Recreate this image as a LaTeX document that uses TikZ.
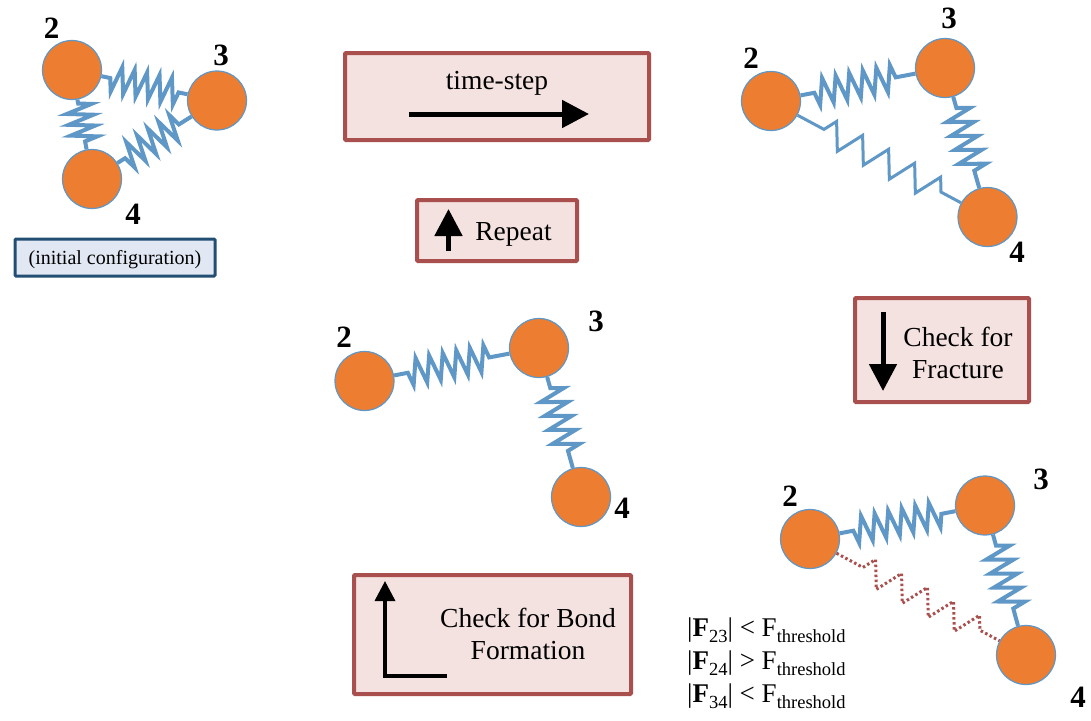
\documentclass[tikz,border=0pt]{standalone}
\usepackage{fontspec}
\setmainfont{Liberation Serif}
\usepackage{tikz}
\usetikzlibrary{arrows.meta, decorations.pathmorphing}

\definecolor{atomfill}{HTML}{ED7D31}
\definecolor{springblue}{HTML}{5F97C6}
\definecolor{stagefill}{HTML}{F4E2E0}
\definecolor{stageline}{HTML}{A94F4D}
\definecolor{initfill}{HTML}{E1E8F3}
\definecolor{initline}{HTML}{234E74}

\newcommand{\subtext}[1]{\raisebox{-6pt}{\fontsize{18.5}{18.5}\selectfont #1}}

\begin{document}
\begin{tikzpicture}[x=1pt, y=-1pt,
    atom/.style={circle, draw=springblue, fill=atomfill, line width=1.2pt, minimum size=59pt, inner sep=0pt},
    atomnum/.style={font=\fontsize{31}{31}\selectfont\bfseries, inner sep=0pt},
    spring/.style 2 args={springblue, line width=4pt, decorate, decoration={zigzag, segment length=#1, amplitude=13pt, pre length=#2, post length=#2}},
    flipped/.style={decoration={mirror}},
    broken/.style={decorate, decoration={zigzag, segment length=29.5pt, amplitude=13pt, pre length=30pt, post length=16pt}},
    stagebox/.style={rectangle, draw=stageline, fill=stagefill, line width=4pt, rounded corners=1pt},
    stagetext/.style={font=\fontsize{27.5}{32}\selectfont, align=center, inner sep=0pt},
    bigarrow/.style={-{Triangle[length=27pt, width=27pt]}, line width=5pt},
]

\useasboundingbox (0,0) rectangle (1091,720);

% === INITIAL CONFIGURATION ===
\node[atom] (a2) at (72,70) {};
\node[atom] (a3) at (217,100.5) {};
\node[atom] (a4) at (92,179) {};
\node[atomnum] (a2n) at (51.5,28) {2};
\node[atomnum] (a3n) at (221,55) {3};
\node[atomnum] (a4n) at (133,214) {4};
\draw[spring={12.7pt}{9pt}, flipped] (a2) -- (a3);
\draw[spring={11pt}{4pt}] (a2) -- (a4);
\draw[spring={12.7pt}{9pt}, flipped] (a4) -- (a3);
\node[rectangle, draw=initline, fill=initfill, line width=3pt, rounded corners=1pt, minimum width=200pt, minimum height=37pt] (init) at (115,257.5) {};
\node[font=\fontsize{20}{24}\selectfont, inner sep=0pt] (inittext) at (115,260) {(initial configuration)};

% === AFTER TIME-STEP ===
\node[atom] (b2) at (771,101) {};
\node[atom] (b3) at (945,68) {};
\node[atom] (b4) at (987.5,217) {};
\node[atomnum] (b2n) at (751,58) {2};
\node[atomnum] (b3n) at (949,18) {3};
\node[atomnum] (b4n) at (1017,252) {4};
\draw[spring={13.8pt}{14pt}, flipped] (b2) -- (b3);
\draw[spring={14.5pt}{11.5pt}] (b3) -- (b4);
\draw[springblue, line width=3pt, broken] (b2) -- (b4);

% === AFTER FRACTURE CHECK ===
\node[atom] (c2) at (810,539) {};
\node[atom] (c3) at (985,505.5) {};
\node[atom] (c4) at (1026,655) {};
\node[atomnum] (c2n) at (790,496) {2};
\node[atomnum] (c3n) at (1041,479) {3};
\node[atomnum] (c4n) at (1078,697) {4};
\draw[spring={13.8pt}{14pt}, flipped] (c2) -- (c3);
\draw[spring={14.5pt}{11.5pt}] (c3) -- (c4);
\draw[stageline, line width=3pt, dash pattern=on 2.5pt off 2.5pt, broken] (c2) -- (c4);

% === AFTER BOND FORMATION CHECK ===
\node[atom] (d2) at (364.5,381) {};
\node[atom] (d3) at (539,348) {};
\node[atom] (d4) at (581,497) {};
\node[atomnum] (d2n) at (344,337) {2};
\node[atomnum] (d3n) at (596,321) {3};
\node[atomnum] (d4n) at (622,508) {4};
\draw[spring={13.8pt}{14pt}, flipped] (d2) -- (d3);
\draw[spring={14.5pt}{11.5pt}] (d3) -- (d4);

% === STAGE BOXES ===
\node[stagebox, minimum width=304pt, minimum height=87pt] (stepbox) at (497,96.5) {};
\node[stagetext] (steptext) at (497,83) {time-step};
\coordinate (stepa) at (409,114);
\coordinate (stepb) at (589,114);
\draw[bigarrow] (stepa) -- (stepb);

\node[stagebox, minimum width=160pt, minimum height=61pt] (repeatbox) at (497,230.5) {};
\node[stagetext] (repeattext) at (513.5,234) {Repeat};
\coordinate (repeata) at (448.5,251);
\coordinate (repeatb) at (448.5,209);
\draw[bigarrow] (repeata) -- (repeatb);

\node[stagebox, minimum width=174pt, minimum height=104pt] (fracbox) at (942,350) {};
\node[stagetext] (fractext) at (958,353) {Check for\\Fracture};
\coordinate (fraca) at (883,312);
\coordinate (fracb) at (883,391);
\draw[bigarrow] (fraca) -- (fracb);

\node[stagebox, minimum width=277pt, minimum height=119pt] (bondbox) at (492.5,634.5) {};
\node[stagetext] (bondtext) at (528,634) {Check for Bond\\Formation};
\coordinate (bonda) at (447,676);
\coordinate (bondb) at (385,676);
\coordinate (bondc) at (385,581);
\draw[-{Triangle[length=20pt, width=20pt]}, line width=3.5pt] (bonda) -- (bondb) -- (bondc);

% === FORCE CRITERIA ===
\node[stagetext, font=\fontsize{27}{33}\selectfont, align=left, anchor=west] (forces) at (687,663) {|\textbf{F}\subtext{23}| < F\subtext{threshold}\\|\textbf{F}\subtext{24}| > F\subtext{threshold}\\|\textbf{F}\subtext{34}| < F\subtext{threshold}};

\end{tikzpicture}
\end{document}
